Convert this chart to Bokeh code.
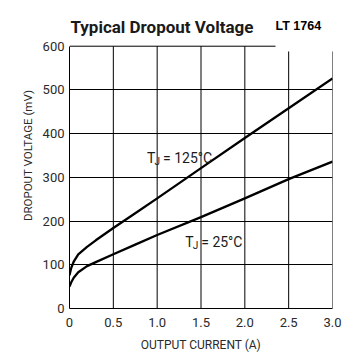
from bokeh.plotting import figure
from bokeh.models import Range1d, FixedTicker
from bokeh.core.properties import value
from bokeh.embed import file_html
from bokeh.resources import INLINE

# ---- data ----
current_a = [0, 0.02, 0.05, 0.1, 0.2, 0.3, 0.5, 0.75, 1.0, 1.5, 2.0, 2.5, 3.0]
dropout_125c = [76, 93, 108, 124, 141, 156, 184, 218, 252, 321, 390, 458, 526]
dropout_25c = [50, 60, 71, 83, 97, 106, 124, 146, 168, 209, 252, 296, 336]

x_ticks = [0, 0.5, 1.0, 1.5, 2.0, 2.5, 3.0]
x_tick_labels = ["0", "0.5", "1.0", "1.5", "2.0", "2.5", "3.0"]
y_ticks = [0, 100, 200, 300, 400, 500, 600]

title_text = "Typical Dropout Voltage"
part_text = "LT 1764"
x_label = "OUTPUT CURRENT (A)"
y_label = "DROPOUT VOLTAGE (mV)"
curve_temps = ["125°C", "25°C"]

FONT = "Roboto"
INK = "#1a1a1a"
Y_MAX = y_ticks[-1]

# frame extends above the 600 mV line so the heading can sit inside it
p = figure(width=356, height=357, output_backend="svg", toolbar_location=None,
           x_range=Range1d(0, 3.0), y_range=Range1d(0, 700),
           min_border_left=69, min_border_right=24, min_border_top=2,
           min_border_bottom=49)
p.outline_line_color = None
p.background_fill_color = "white"
p.border_fill_color = "white"

# horizontal grid (inner lines)
p.ygrid.ticker = FixedTicker(ticks=y_ticks[1:-1])
p.ygrid.grid_line_color = "black"
p.ygrid.grid_line_width = 1
p.xgrid.grid_line_color = None

# vertical grid lines stop at the 600 mV line (last two just under it)
vx = x_ticks[1:]
vtop = [Y_MAX if t < 2.3 else Y_MAX * 0.98 for t in vx]
p.segment(x0=vx, y0=[0] * len(vx), x1=vx, y1=vtop, line_color="black", line_width=1)
# partial top edge
p.segment(x0=[0], y0=[Y_MAX], x1=[2.35], y1=[Y_MAX], line_color="black", line_width=1)

# curves
p.line(current_a, dropout_125c, line_color="black", line_width=2.3)
p.line(current_a, dropout_25c, line_color="black", line_width=2.3)

# axes
for ax in (p.xaxis[0], p.yaxis[0]):
    ax.axis_line_color = "black"
    ax.axis_line_width = 1
    ax.major_tick_line_color = None
    ax.minor_tick_line_color = None
    ax.major_tick_out = 0
    ax.major_tick_in = 0
    ax.minor_tick_out = 0
    ax.minor_tick_in = 0
    ax.major_label_text_font = FONT
    ax.major_label_text_font_size = "13px"
    ax.major_label_text_color = "#2a2a2a"
    ax.axis_label_text_font = FONT
    ax.axis_label_text_font_size = "12px"
    ax.axis_label_text_font_style = "normal"
    ax.axis_label_text_color = "#2a2a2a"

p.xaxis.ticker = FixedTicker(ticks=x_ticks)
p.xaxis.major_label_overrides = {t: s for t, s in zip(x_ticks, x_tick_labels)}
p.xaxis.axis_label = x_label
p.xaxis.major_label_standoff = 9
p.xaxis.axis_label_standoff = 8

p.yaxis.ticker = FixedTicker(ticks=y_ticks)
p.yaxis.bounds = (0, Y_MAX)
p.yaxis.axis_label = y_label
p.yaxis.axis_label_text_font_size = "11.5px"
p.yaxis.major_label_standoff = 5
p.yaxis.axis_label_standoff = 5

# curve labels: T with subscript J
lab_x = [0.885, 1.32]
lab_y = [344, 152]
p.text(x=lab_x, y=lab_y, text=["T", "T"], text_font=value(FONT),
       text_font_size="14px", text_color=INK, text_baseline="alphabetic")
p.text(x=lab_x, y=lab_y, text=["J", "J"], text_font=value(FONT),
       text_font_size="10px", text_color=INK, text_baseline="alphabetic",
       x_offset=7.5, y_offset=3)
p.text(x=lab_x, y=lab_y, text=["= " + t for t in curve_temps],
       text_font=value(FONT), text_font_size="14px", text_color=INK,
       text_baseline="alphabetic", x_offset=16)

# heading texts
p.text(x=[0.01], y=[644], text=[title_text], text_font=value(FONT),
       text_font_size="17px", text_font_style="bold", text_color=INK,
       text_baseline="alphabetic")
p.text(x=[2.35], y=[646], text=[part_text], text_font=value("Liberation Sans"),
       text_font_size="12.5px", text_font_style="bold", text_color="black",
       text_baseline="alphabetic")

open("out.html", "w").write(file_html(p, INLINE))
